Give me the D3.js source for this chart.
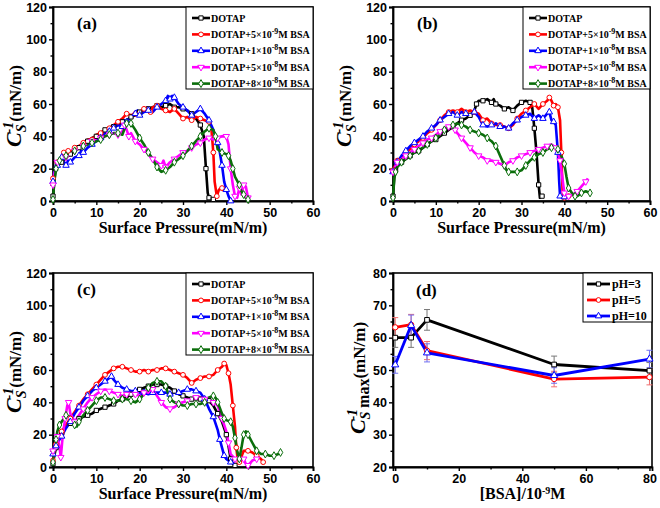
<!DOCTYPE html>
<html><head><meta charset="utf-8">
<script src="https://cdn.jsdelivr.net/npm/d3@7/dist/d3.min.js"></script>
<style>body{margin:0;background:#fff}svg{display:block}</style>
</head><body><svg id="chart" width="660" height="508"></svg>
<script>
// ---------- DATA ----------
// Panel (a): [surface pressure, Cs^-1]
const a_DOTAP = [[0,3],[0.3,12],[0.6,20],[1,22],[2,24],[3,27],[4,29],[5,31],[6,33],[7,35],[8,37],[9,39],[10,40],[11,42],[12,44],[13,45],[14,46],[15,47],[16,49],[17,50],[18,52],[19,53],[20,55],[21,56],[22,57],[23,58],[24,59],[25,58],[26,59],[27,60],[28,58],[29,58],[30,57],[31,56],[32,54],[33,51],[34,47],[34.8,40],[35.3,20],[35.7,5],[36,2],[36.5,1.5],[37,1]];
const a_BSA5e9 = [[0,14],[0.3,18],[1,24],[2,27],[2.5,30],[3,29],[3.5,31],[4,30],[5,33],[6,34],[7,36],[8,38],[9,38],[10,41],[11,42],[12,44],[13,45],[14,47],[15,49],[16,51],[17,54],[18,53],[19,54],[20,55],[21,57],[22,58],[22.5,55],[23,58],[24,59],[25,57],[26,56],[27,55],[28,57],[29,54],[30,51],[31,52],[32,50],[33,52],[34,51],[35,50],[36,49],[36.5,46],[37,30],[37.3,12],[37.8,3],[38.3,7],[39,8],[39.5,6]];
const a_BSA1e8 = [[0,12],[0.3,18],[1,22],[1.5,25],[2,27],[2.5,24],[3,22],[3.5,25],[4,24],[5,27],[6,28],[6.5,31],[7,30],[8,33],[9,35],[10,37],[11,39],[12,42],[13,43],[13.5,46],[14,45],[15,47],[16,46],[16.5,50],[17,49],[18,52],[19,54],[19.5,56],[20,53],[21,55],[22,56],[23,55],[24,58],[25,60],[26,62],[26.5,65],[27,63],[27.5,65],[28,64],[29,60],[30,58],[31,56],[32,53],[33,55],[34,57],[35,54],[36,50],[37,44],[38,36],[38.5,30],[39,22],[39.5,12],[40,7],[40.5,3],[41,0]];
const a_BSA5e8 = [[0,10],[0.5,20],[1,24],[2,26],[3,27],[4,29],[5,31],[6,33],[7,34],[8,36],[9,37],[10,38],[11,39],[12,40],[13,41],[14,42],[15,41],[16,43],[16.5,47],[17,44],[17.5,40],[18,42],[19,37],[20,35],[21,32],[22,29],[23,26],[24,24],[25,22],[25.5,25],[26,21],[27,24],[28,26],[29,28],[30,30],[31,31],[32,33],[33,35],[34,36],[35,38],[36,39],[37,38],[38,39],[39,40],[40,40],[40.5,35],[41,20],[41.5,10],[42,3],[42.5,2],[43,8],[43.5,4],[44,10],[44.5,9],[45,2]];
const a_BSA8e8 = [[0,1],[0.3,12],[0.7,20],[1,24],[1.5,25],[2,26],[3,28],[4,29],[5,31],[6,33],[7,34],[8,35],[9,36],[10,37],[11,38],[12,40],[13,41],[14,42],[15,42],[16,41],[17,48],[17.5,49],[18,48],[19,44],[20,39],[21,35],[22,30],[23,26],[24,21],[25,18],[26,19],[27,21],[28,24],[29,26],[30,28],[31,31],[32,34],[33,37],[34,40],[35,43],[36,45],[37,44],[37.5,40],[38,32],[39,30],[40,29],[40.5,28],[41,25],[41.5,20],[42,15],[43,10],[43.5,6],[44,4],[44.5,2],[45,1]];

// Panel (b)
const b_DOTAP = [[0,3],[0.3,15],[0.6,19],[1,22],[2,24],[3,26],[4,28],[5,30],[6,31],[7,33],[8,35],[9,37],[10,38],[11,40],[12,42],[13,44],[14,46],[15,48],[16,50],[17,51],[18,53],[19,56],[19.5,60],[20,62],[21,62],[22,63],[23,61],[23.5,63],[24,60],[25,59],[26,57],[27,58],[28,56],[29,59],[30,61],[31,62],[32,61],[32.5,58],[33,45],[33.5,30],[34,10],[34.3,2],[34.8,3],[35.3,3.5]];
const b_BSA5e9 = [[0,19],[0.5,22],[1,25],[2,27],[3,30],[4,32],[5,35],[6,37],[7,39],[8,42],[9,44],[10,47],[11,50],[12,53],[13,55],[14,56],[15,55],[16,57],[17,55],[18,56],[19,55],[20,54],[21,50],[22,51],[23,48],[24,47],[25,47],[26,46],[27,45],[28,47],[29,51],[30,54],[31,56],[32,58],[33,60],[34,57],[35,60],[36,62],[36.5,64],[37,62],[37.5,59],[38,60],[38.5,58],[39,50],[39.3,30],[39.6,5],[40,2],[40.5,2.5],[41,3]];
const b_BSA1e8 = [[0,18],[0.5,21],[1,24],[2,28],[3,31],[4,34],[5,36],[6,38],[7,40],[8,43],[9,45],[10,47],[11,50],[12,52],[13,54],[14,55],[15,53],[16,55],[17,54],[18,53],[19,55],[20,52],[21,47],[22,46],[23,47],[24,48],[25,46],[26,46],[27,45],[28,48],[29,50],[30,52],[31,53],[32,54],[33,51],[34,53],[35,51],[36,54],[36.5,55],[37,50],[37.5,49],[38,47],[38.5,30],[38.8,12],[39,3],[39.5,2],[40,2.5],[40.5,3]];
const b_BSA5e8 = [[0,18],[0.5,21],[1,24],[2,26],[3,28],[4,30],[5,32],[6,34],[7,36],[8,38],[9,39],[10,41],[11,43],[12,45],[13,46],[14,46],[14.5,44],[15,42],[16,39],[17,36],[18,33],[19,30],[20,28],[21,27],[22,25],[23,25],[24,24],[25,23],[26,22],[27,24],[28,25],[29,27],[30,28],[31,29],[32,30],[33,31],[34,32],[35,33],[36,34],[37,35],[38,33],[38.5,30],[39,25],[39.5,15],[40,5],[40.5,2],[41,3],[42,4],[43,6],[44,9],[45,12],[45.5,14]];
const b_BSA8e8 = [[0,2],[0.3,14],[0.6,18],[1,21],[2,24],[3,26],[4,28],[5,30],[6,31],[7,33],[8,35],[9,37],[10,39],[11,41],[12,44],[13,46],[14,47],[15,48],[16,47],[17,46],[18,44],[19,43],[20,42],[21,41],[22,39],[23,37],[24,34],[25,28],[26,22],[26.5,19],[27,18],[28,18],[29,18],[30,19],[31,22],[32,25],[33,27],[34,29],[35,30],[36,32],[37,33],[38,33],[38.5,32],[39,30],[40,23],[40.5,15],[41,8],[42,4],[42.5,3],[43,3],[44,5],[45,6],[46,5]];

// Panel (c)
const c_DOTAP = [[0,2],[0.3,7],[0.7,12],[1,16],[2,21],[3,25],[4,27],[5,28],[6,30],[7,31],[8,32],[9,33],[10,35],[11,36],[12,37],[13,38],[14,39],[15,41],[16,42],[17,43],[18,45],[19,47],[20,48],[21,49],[22,50],[23,51],[24,51],[25,51],[26,50],[27,49],[28,47],[29,45],[30,44],[31,43],[32,42],[33,42],[34,42],[35,43],[36,41],[37,38],[38,33],[39,28],[40,20],[40.5,13],[41,5],[41.5,2],[42,1]];
const c_BSA5e9 = [[0,4],[0.3,10],[0.7,14],[1,17],[2,22],[3,26],[4,30],[5,34],[6,38],[7,42],[8,45],[9,48],[10,51],[11,54],[12,57],[13,59],[14,61],[15,62],[16,62],[17,61],[18,60],[19,59],[20,59],[21,60],[22,59],[23,60],[24,60],[25,61],[26,61],[27,60],[28,59],[29,58],[30,57],[31,55],[32,52],[33,54],[34,55],[35,56],[36,56],[37,57],[38,60],[39,62],[39.5,64],[40,63],[40.5,58],[41,51],[41.5,38],[42,25],[42.3,12],[42.6,5],[43,3],[44,10],[45,10],[46,9],[47,7],[48,5],[48.5,3]];
const c_BSA1e8 = [[0,8],[0.3,10],[0.7,13],[1,15],[2,19],[3,24],[4,28],[5,33],[6,37],[7,41],[8,44],[9,47],[10,49],[11,51],[12,53],[13,55],[13.5,56],[14,54],[15,51],[16,49],[17,48],[18,47],[19,47],[20,46],[21,46],[22,45],[23,46],[24,46],[25,46],[26,46],[27,45],[28,46],[29,46],[30,47],[31,48],[32,48],[33,47],[34,46],[35,42],[36,36],[37,31],[38,23],[38.5,17],[39,12],[39.5,7],[40,5],[41,3],[42,2]];
const c_BSA5e8 = [[0,10],[0.5,15],[1,19],[1.5,12],[1.8,6],[2.2,18],[2.8,30],[3.3,38],[3.6,40],[4,33],[5,28],[6,32],[7,36],[8,40],[9,43],[10,45],[11,47],[12,48],[13,47],[14,46],[15,45],[16,44],[17,45],[18,46],[19,45],[20,44],[21,46],[22,46],[23,48],[24,44],[25,40],[26,37],[27,36],[28,37],[29,39],[30,40],[31,41],[32,42],[33,43],[34,43],[35,42],[36,41],[37,40],[38,38],[39,30],[40,22],[40.5,15],[41,8],[42,5],[43,4],[44,5],[44.5,2],[45,1],[46,4],[47,5]];
const c_BSA8e8 = [[0,3],[0.3,10],[0.7,17],[1,22],[1.5,26],[2,28],[3,32],[4,31],[5,26],[5.5,25],[6,28],[7,32],[8,35],[9,38],[10,41],[11,43],[12,43],[13,42],[14,41],[15,41],[16,42],[17,42],[18,41],[19,40],[20,42],[21,45],[22,49],[23,52],[24,53],[25,53],[26,50],[26.5,46],[27,42],[28,40],[29,39],[30,38],[31,38],[32,39],[33,39],[34,39],[35,40],[36,43],[37,44],[37.5,43],[38,40],[39,33],[39.5,30],[40,29],[41,28],[41.5,25],[42,18],[42.5,10],[43,5],[43.5,12],[44,20],[44.5,22],[45,20],[46,15],[47,10],[48,8],[49,8],[50,7],[51,7],[52,8],[52.5,9]];

// Panel (d): [BSA]/1e-9 M
const bsaConc = [0, 5, 10, 50, 80];
const pH3 = [60, 60, 65.5, 51.7, 49.8];
const pH3err = [3, 3, 3.2, 2.6, 2.5];
const pH5 = [63.2, 64, 56, 47.2, 47.8];
const pH5err = [3, 3.2, 2.8, 2.4, 2.4];
const pH10 = [51.6, 63.8, 55.3, 48.3, 53.4];
const pH10err = [2.6, 3.2, 2.8, 2.4, 2.7];

// Legend text & styles
const seriesMant = ["", "5", "1", "5", "8"];
const seriesExp = ["", "-9", "-8", "-8", "-8"];
const seriesColors = ["#000000", "#ff0000", "#0000ff", "#ff00ff", "#0b6e0b"];
const seriesSymbols = ["square", "circle", "triUp", "triDown", "diamond"];
const pHNames = ["pH=3", "pH=5", "pH=10"];
const pHColors = ["#000000", "#ff0000", "#0000ff"];
const pHSymbols = ["square", "circle", "triUp"];

const pressTicks = [0, 10, 20, 30, 40, 50, 60];
const pressMinor = [5, 15, 25, 35, 45, 55];
const csTicks = [0, 20, 40, 60, 80, 100, 120];
const csMinor = [10, 30, 50, 70, 90, 110];
const bsaTicks = [0, 20, 40, 60, 80];
const bsaMinor = [10, 30, 50, 70];
const csMaxTicks = [20, 30, 40, 50, 60, 70, 80];
const csMaxMinor = [25, 35, 45, 55, 65, 75];

// ---------- DRAWING ----------
const svg = d3.select("#chart");
const SERIF = "'Liberation Serif','Times New Roman',serif";
const SANS = "'Liberation Sans',Arial,sans-serif";

function symbolPath(name, size) {
  const map = {square: d3.symbolSquare, circle: d3.symbolCircle, triUp: d3.symbolTriangle, triDown: d3.symbolTriangle, diamond: d3.symbolDiamond};
  return d3.symbol().type(map[name]).size(size)();
}
function drawMarker(g, name, x, y, color, size) {
  g.append("path").attr("d", symbolPath(name, size))
    .attr("transform", `translate(${x},${y})` + (name === "triDown" ? " rotate(180)" : ""))
    .attr("fill", "#fff").attr("stroke", color).attr("stroke-width", 1);
}

function axes(g, x, y, top, bottom, left, right, xt, xm, yt, ym) {
  g.append("g").attr("transform", `translate(0,${bottom})`)
    .call(d3.axisBottom(x).tickValues(xt).tickSize(4).tickPadding(3).tickFormat(d3.format("d")));
  g.append("g").attr("transform", `translate(0,${bottom})`)
    .call(d3.axisBottom(x).tickValues(xm).tickSize(2.5).tickFormat("")).select(".domain").remove();
  g.append("g").attr("transform", `translate(${left},0)`)
    .call(d3.axisLeft(y).tickValues(yt).tickSize(4).tickPadding(2).tickFormat(d3.format("d")));
  g.append("g").attr("transform", `translate(${left},0)`)
    .call(d3.axisLeft(y).tickValues(ym).tickSize(2.5).tickFormat("")).select(".domain").remove();
  g.selectAll(".tick line").attr("stroke-width", 1.4);
  g.selectAll(".tick text").attr("font-family", SANS).attr("font-weight", "bold").attr("font-size", 12.5).attr("fill", "#000");
  g.selectAll(".domain").attr("stroke-width", 1.8);
  g.append("rect").attr("x", left).attr("y", top).attr("width", right - left).attr("height", bottom - top)
    .attr("fill", "none").attr("stroke", "#000").attr("stroke-width", 1.6);
}

function yTitle(g, cx, cy, withMax) {
  const t = g.append("text").attr("transform", `translate(${cx},${cy}) rotate(-90)`)
    .attr("text-anchor", "middle").attr("font-family", SERIF).attr("font-weight", "bold").attr("fill", "#000");
  t.append("tspan").attr("font-style", "italic").attr("font-size", 22).text("C");
  t.append("tspan").attr("font-style", "italic").attr("font-size", 14).attr("dy", 5).text("S");
  t.append("tspan").attr("font-style", "italic").attr("font-size", 14).attr("dx", -9).attr("dy", -13).text("-1");
  if (withMax) {
    t.append("tspan").attr("font-size", 16).attr("dy", 12).attr("dx", 1).text("max");
    t.append("tspan").attr("font-size", 17).attr("dy", -4).text("(mN/m)");
  } else {
    t.append("tspan").attr("font-size", 17).attr("dy", 8).text("(mN/m)");
  }
}

function panelLabel(g, x, y, txt) {
  g.append("text").attr("x", x).attr("y", y).attr("font-family", SERIF).attr("font-weight", "bold")
    .attr("font-size", 17).text(txt);
}

function legendText(t, i) {
  t.append("tspan").text(i === 0 ? "DOTAP" : `DOTAP+${seriesMant[i]}×10`);
  if (i > 0) {
    t.append("tspan").attr("font-size", 8).attr("dy", -4).text(seriesExp[i]);
    t.append("tspan").attr("dy", 4).text("M BSA");
  }
}

function pressurePanel(L, T, R, B, data, label, ytx) {
  const g = svg.append("g");
  const x = d3.scaleLinear().domain([0, 60]).range([L, R]);
  const y = d3.scaleLinear().domain([0, 120]).range([B, T]);
  axes(g, x, y, T, B, L, R, pressTicks, pressMinor, csTicks, csMinor);
  const line = d3.line().x(d => x(d[0])).y(d => y(d[1]));
  data.forEach((s, i) => {
    g.append("path").datum(s).attr("d", line).attr("fill", "none")
      .attr("stroke", seriesColors[i]).attr("stroke-width", 2.6).attr("stroke-linejoin", "round");
  });
  data.forEach((s, i) => {
    s.forEach((d, j) => { if (j % 2 === 0) drawMarker(g, seriesSymbols[i], x(d[0]), y(d[1]), seriesColors[i], 18); });
  });
  // legend
  const lw = 127, lx = R - lw;
  const lg = g.append("g");
  lg.append("rect").attr("x", lx).attr("y", T).attr("width", lw).attr("height", 82)
    .attr("fill", "#fff").attr("stroke", "#000").attr("stroke-width", 1);
  data.forEach((s, i) => {
    const yy = T + 11 + i * 16.4;
    lg.append("line").attr("x1", lx + 6).attr("x2", lx + 24).attr("y1", yy).attr("y2", yy)
      .attr("stroke", seriesColors[i]).attr("stroke-width", 2.6);
    drawMarker(lg, seriesSymbols[i], lx + 15, yy, seriesColors[i], 18);
    const t = lg.append("text").attr("x", lx + 25).attr("y", yy + 3.5).attr("font-family", SERIF)
      .attr("font-weight", "bold").attr("font-size", 10).attr("fill", "#000");
    legendText(t, i);
  });
  panelLabel(g, L + 24, T + 22, label);
  g.append("text").attr("x", (L + R) / 2).attr("y", B + 32).attr("text-anchor", "middle")
    .attr("font-family", SERIF).attr("font-weight", "bold").attr("font-size", 16).text("Surface Pressure(mN/m)");
  yTitle(g, ytx, (T + B) / 2 + 2, false);
}

pressurePanel(53, 7, 313, 201, [a_DOTAP, a_BSA5e9, a_BSA1e8, a_BSA5e8, a_BSA8e8], "(a)", 21);
pressurePanel(393, 7, 650, 201, [b_DOTAP, b_BSA5e9, b_BSA1e8, b_BSA5e8, b_BSA8e8], "(b)", 351);
pressurePanel(53, 273, 313, 467, [c_DOTAP, c_BSA5e9, c_BSA1e8, c_BSA5e8, c_BSA8e8], "(c)", 21);

// Panel (d)
(function () {
  const L = 393, T = 273, R = 652, B = 467;
  const g = svg.append("g");
  const x = d3.scaleLinear().domain([-0.7, 80.8]).range([L, R]);
  const y = d3.scaleLinear().domain([20, 80]).range([B, T]);
  axes(g, x, y, T, B, L, R, bsaTicks, bsaMinor, csMaxTicks, csMaxMinor);
  const vals = [pH3, pH5, pH10], errs = [pH3err, pH5err, pH10err];
  const errCols = ["#777", "#f07070", "#7070f0"];
  const line = d3.line().x((d, k) => x(bsaConc[k])).y(d => y(d));
  vals.forEach((v, i) => {
    v.forEach((d, k) => {
      const xx = x(bsaConc[k]);
      g.append("line").attr("x1", xx).attr("x2", xx).attr("y1", y(d - errs[i][k])).attr("y2", y(d + errs[i][k]))
        .attr("stroke", errCols[i]).attr("stroke-width", 1);
      [d - errs[i][k], d + errs[i][k]].forEach(e => g.append("line").attr("x1", xx - 3).attr("x2", xx + 3)
        .attr("y1", y(e)).attr("y2", y(e)).attr("stroke", errCols[i]).attr("stroke-width", 1));
    });
  });
  vals.forEach((v, i) => {
    g.append("path").datum(v).attr("d", line).attr("fill", "none").attr("stroke", pHColors[i])
      .attr("stroke-width", 2.8).attr("stroke-linejoin", "round");
  });
  vals.forEach((v, i) => v.forEach((d, k) => drawMarker(g, pHSymbols[i], x(bsaConc[k]), y(d), pHColors[i], 22)));
  const lx = 583, lw = R - lx;
  g.append("rect").attr("x", lx).attr("y", T).attr("width", lw).attr("height", 49)
    .attr("fill", "#fff").attr("stroke", "#000").attr("stroke-width", 1);
  pHNames.forEach((n, i) => {
    const yy = T + 11 + i * 16;
    g.append("line").attr("x1", lx + 4).attr("x2", lx + 27).attr("y1", yy).attr("y2", yy)
      .attr("stroke", pHColors[i]).attr("stroke-width", 2.8);
    drawMarker(g, pHSymbols[i], lx + 15.5, yy, pHColors[i], 18);
    g.append("text").attr("x", lx + 29).attr("y", yy + 4).attr("font-family", SERIF).attr("font-weight", "bold")
      .attr("font-size", 12).text(n);
  });
  panelLabel(g, 416, 296, "(d)");
  const t = g.append("text").attr("x", (L + R) / 2).attr("y", B + 32).attr("text-anchor", "middle")
    .attr("font-family", SERIF).attr("font-weight", "bold").attr("font-size", 16);
  t.append("tspan").text("[BSA]/10");
  t.append("tspan").attr("font-size", 10).attr("dy", -5).text("-9");
  t.append("tspan").attr("dy", 5).text("M");
  yTitle(g, 365, 378, true);
})();
</script></body></html>
